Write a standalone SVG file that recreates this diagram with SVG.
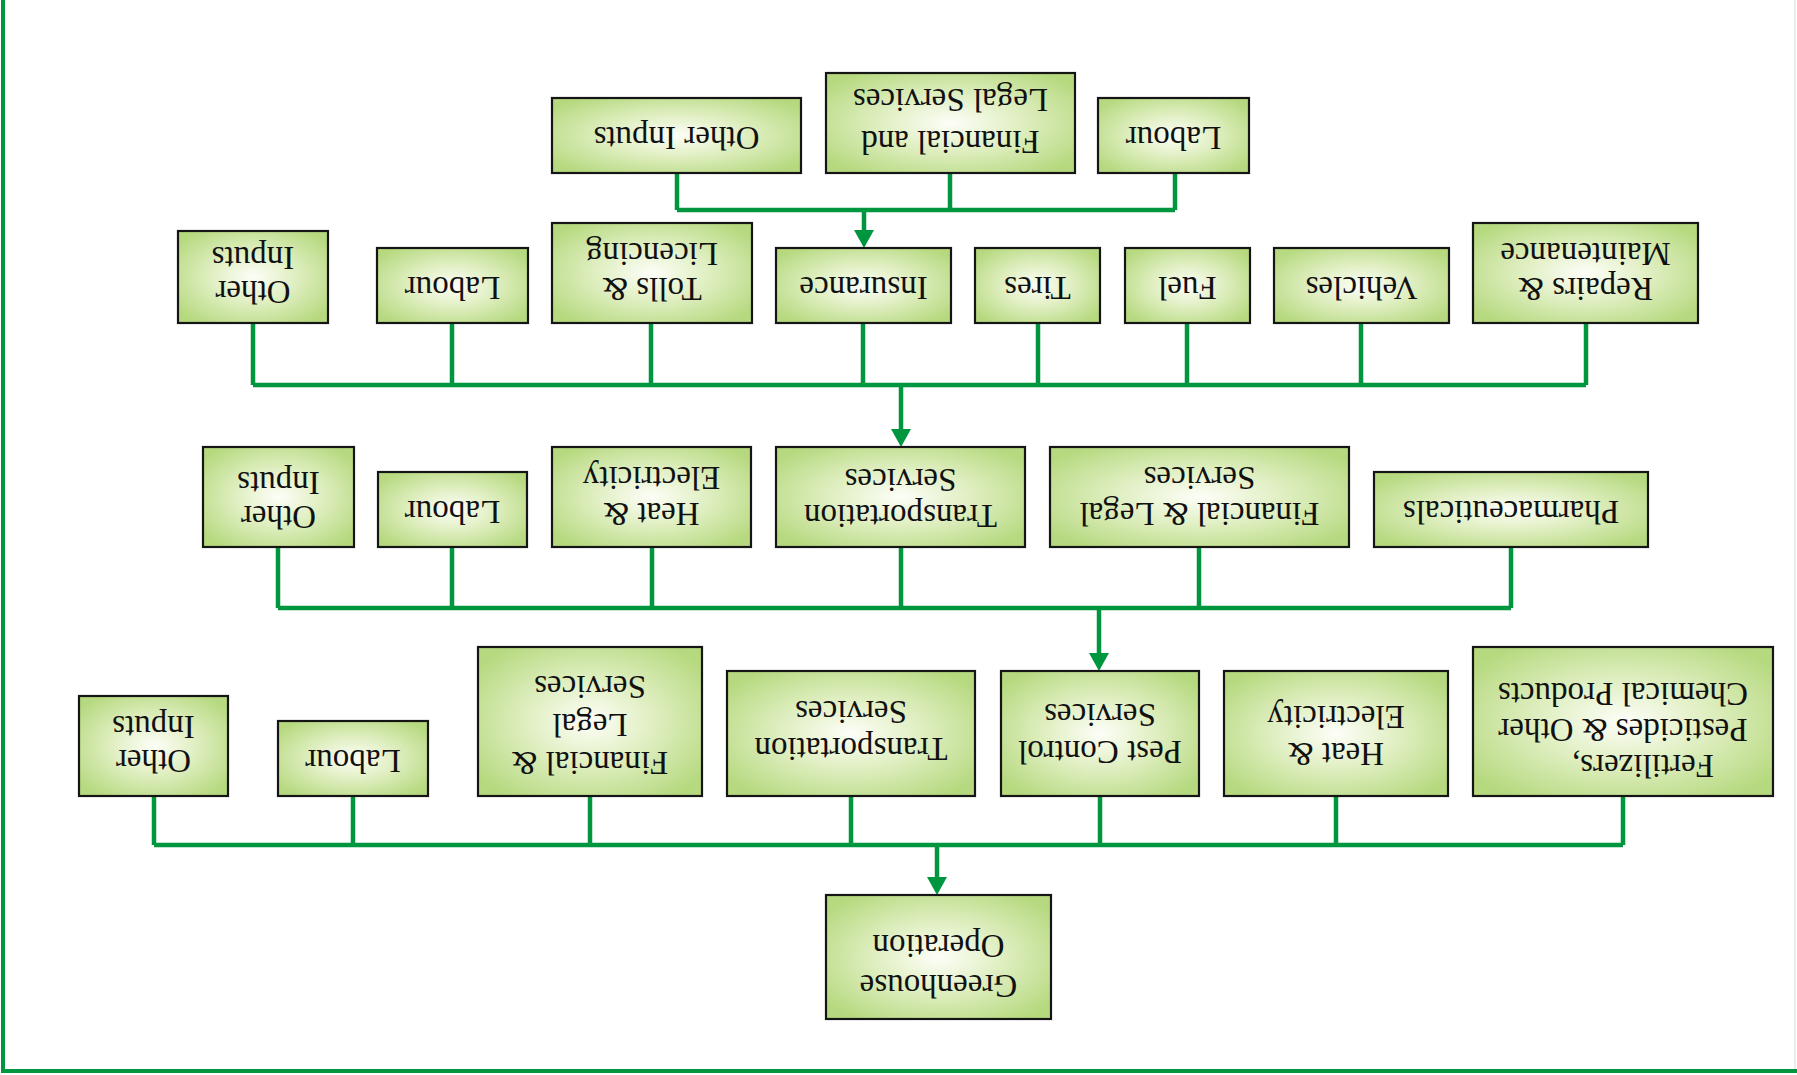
<svg xmlns="http://www.w3.org/2000/svg" width="1797" height="1075" viewBox="0 0 1797 1075">
<defs>
<radialGradient id="g" cx="50%" cy="50%" r="62%">
<stop offset="0%" stop-color="#fdfef8"/>
<stop offset="45%" stop-color="#e0efc2"/>
<stop offset="100%" stop-color="#b6d97f"/>
</radialGradient>
<marker id="ah" viewBox="0 0 18 20" refX="1" refY="10" markerWidth="18" markerHeight="20" markerUnits="userSpaceOnUse" orient="auto">
<path d="M0,0 L18,10 L0,20 z" fill="#00963f"/>
</marker>
<style>
.b{fill:url(#g);stroke:#151515;stroke-width:2.2}
.t{font-family:"Liberation Serif","Times New Roman",serif;font-size:33px;fill:#111;text-anchor:middle}
.c{fill:none;stroke:#00963f;stroke-width:4.5;stroke-linejoin:miter}
.a{fill:none;stroke:#00963f;stroke-width:4.5;marker-end:url(#ah)}
</style>
</defs>
<rect width="1797" height="1075" fill="#ffffff"/>
<g id="frame">
<line x1="1795" y1="0" x2="1795" y2="1071" stroke="#dde8e2" stroke-width="1.5"/>
<polyline points="3,0 3,1071 1797,1071" fill="none" stroke="#00963f" stroke-width="4"/>
</g>
<g id="connectors">
<path class="c" d="M677,173V210M950,173V210M1175,173V210M677,210H1175"/>
<path class="a" d="M864,210V231"/>
<path class="c" d="M253,323V385M452,323V385M651,323V385M863,323V385M1038,323V385M1187,323V385M1361,323V385M1586,323V385M253,385H1586"/>
<path class="a" d="M901,385V430"/>
<path class="c" d="M278,547V608M452,547V608M652,547V608M901,547V608M1199,547V608M1511,547V608M278,608H1511"/>
<path class="a" d="M1099,608V654"/>
<path class="c" d="M154,796V845M353,796V845M590,796V845M851,796V845M1100,796V845M1336,796V845M1623,796V845M154,845H1623"/>
<path class="a" d="M937,845V878"/>
</g>
<g id="r1-other"><rect class="b" x="552" y="98" width="249" height="75"/><text class="t" transform="rotate(180 676.5 135.5)"><tspan x="676.5" y="144">Other Inputs</tspan></text></g>
<g id="r1-financial"><rect class="b" x="826" y="73" width="249" height="100"/><text class="t" transform="rotate(180 950.5 123)"><tspan x="950.5" y="115">Financial and</tspan><tspan x="950.5" y="157">Legal Services</tspan></text></g>
<g id="r1-labour"><rect class="b" x="1098" y="98" width="151" height="75"/><text class="t" transform="rotate(180 1173.5 135.5)"><tspan x="1173.5" y="144">Labour</tspan></text></g>

<g id="r2-other"><rect class="b" x="178" y="231" width="150" height="92"/><text class="t" transform="rotate(180 253 277)"><tspan x="253" y="273">Other</tspan><tspan x="253" y="307">Inputs</tspan></text></g>
<g id="r2-labour"><rect class="b" x="377" y="248" width="151" height="75"/><text class="t" transform="rotate(180 452.5 285.5)"><tspan x="452.5" y="294">Labour</tspan></text></g>
<g id="r2-tolls"><rect class="b" x="552" y="223" width="200" height="100"/><text class="t" transform="rotate(180 652 273)"><tspan x="652" y="268">Tolls &amp;</tspan><tspan x="652" y="303">Licencing</tspan></text></g>
<g id="r2-insurance"><rect class="b" x="776" y="248" width="175" height="75"/><text class="t" transform="rotate(180 863.5 285.5)"><tspan x="863.5" y="294">Insurance</tspan></text></g>
<g id="r2-tires"><rect class="b" x="975" y="248" width="125" height="75"/><text class="t" transform="rotate(180 1037.5 285.5)"><tspan x="1037.5" y="294">Tires</tspan></text></g>
<g id="r2-fuel"><rect class="b" x="1125" y="248" width="125" height="75"/><text class="t" transform="rotate(180 1187.5 285.5)"><tspan x="1187.5" y="294">Fuel</tspan></text></g>
<g id="r2-vehicles"><rect class="b" x="1274" y="248" width="175" height="75"/><text class="t" transform="rotate(180 1361.5 285.5)"><tspan x="1361.5" y="294">Vehicles</tspan></text></g>
<g id="r2-repairs"><rect class="b" x="1473" y="223" width="225" height="100"/><text class="t" transform="rotate(180 1585.5 273)"><tspan x="1585.5" y="268">Repairs &amp;</tspan><tspan x="1585.5" y="303">Maintenance</tspan></text></g>

<g id="r3-other"><rect class="b" x="203" y="447" width="151" height="100"/><text class="t" transform="rotate(180 278.5 497)"><tspan x="278.5" y="488.5">Other</tspan><tspan x="278.5" y="522.5">Inputs</tspan></text></g>
<g id="r3-labour"><rect class="b" x="378" y="472" width="149" height="75"/><text class="t" transform="rotate(180 452.5 509.5)"><tspan x="452.5" y="518">Labour</tspan></text></g>
<g id="r3-heat"><rect class="b" x="552" y="447" width="199" height="100"/><text class="t" transform="rotate(180 651.5 497)"><tspan x="651.5" y="491">Heat &amp;</tspan><tspan x="651.5" y="527.5">Electricity</tspan></text></g>
<g id="r3-transport"><rect class="b" x="776" y="447" width="249" height="100"/><text class="t" transform="rotate(180 900.5 497)"><tspan x="900.5" y="489">Transportation</tspan><tspan x="900.5" y="525.5">Services</tspan></text></g>
<g id="r3-financial"><rect class="b" x="1050" y="447" width="299" height="100"/><text class="t" transform="rotate(180 1199.5 497)"><tspan x="1199.5" y="491">Financial &amp; Legal</tspan><tspan x="1199.5" y="527">Services</tspan></text></g>
<g id="r3-pharma"><rect class="b" x="1374" y="472" width="274" height="75"/><text class="t" transform="rotate(180 1511 509.5)"><tspan x="1511" y="518">Pharmaceuticals</tspan></text></g>

<g id="r4-other"><rect class="b" x="79" y="696" width="149" height="100"/><text class="t" transform="rotate(180 153.5 746)"><tspan x="153.5" y="742.5">Other</tspan><tspan x="153.5" y="776.5">Inputs</tspan></text></g>
<g id="r4-labour"><rect class="b" x="278" y="721" width="150" height="75"/><text class="t" transform="rotate(180 353 758.5)"><tspan x="353" y="767">Labour</tspan></text></g>
<g id="r4-financial"><rect class="b" x="478" y="647" width="224" height="149"/><text class="t" transform="rotate(180 590 721.5)"><tspan x="590" y="691.5">Financial &amp;</tspan><tspan x="590" y="729.5">Legal</tspan><tspan x="590" y="767.5">Services</tspan></text></g>
<g id="r4-transport"><rect class="b" x="727" y="671" width="248" height="125"/><text class="t" transform="rotate(180 851 733.5)"><tspan x="851" y="729">Transportation</tspan><tspan x="851" y="766">Services</tspan></text></g>
<g id="r4-pest"><rect class="b" x="1001" y="671" width="198" height="125"/><text class="t" transform="rotate(180 1100 733.5)"><tspan x="1100" y="726">Pest Control</tspan><tspan x="1100" y="763">Services</tspan></text></g>
<g id="r4-heat"><rect class="b" x="1224" y="671" width="224" height="125"/><text class="t" transform="rotate(180 1336 733.5)"><tspan x="1336" y="724">Heat &amp;</tspan><tspan x="1336" y="761">Electricity</tspan></text></g>
<g id="r4-fertilizers"><rect class="b" x="1473" y="647" width="300" height="149"/><text class="t" transform="rotate(180 1623 721.5)"><tspan x="1603" y="688.5">Fertilizers,</tspan><tspan x="1623" y="724.5">Pesticides &amp; Other</tspan><tspan x="1623" y="760.5">Chemical Products</tspan></text></g>

<g id="greenhouse"><rect class="b" x="826" y="895" width="225" height="124"/><text class="t" transform="rotate(180 938.5 957)"><tspan x="938.5" y="939">Greenhouse</tspan><tspan x="938.5" y="979">Operation</tspan></text></g>
</svg>
